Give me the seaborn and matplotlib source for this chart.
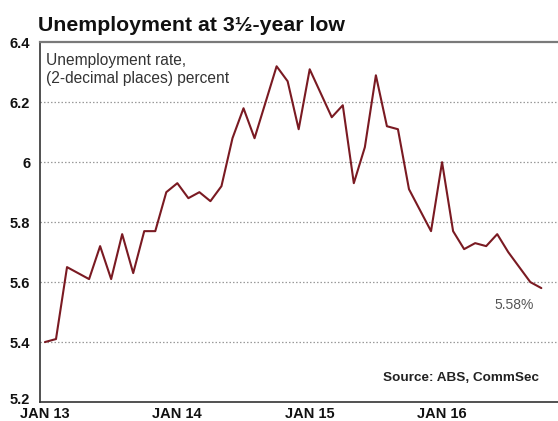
import matplotlib
matplotlib.use("Agg")
import matplotlib.pyplot as plt
import matplotlib.transforms as mtransforms
import seaborn as sns
import pandas as pd

# Monthly unemployment rate, Jan 2013 - Oct 2016 (percent, 2 decimals)
months = pd.date_range("2013-01-01", periods=46, freq="MS")
rate = [5.40, 5.41, 5.65, 5.63, 5.61, 5.72, 5.61, 5.76, 5.63, 5.77, 5.77, 5.90,
        5.93, 5.88, 5.90, 5.87, 5.92, 6.08, 6.18, 6.08, 6.20, 6.32, 6.27, 6.11,
        6.31, 6.23, 6.15, 6.19, 5.93, 6.05, 6.29, 6.12, 6.11, 5.91, 5.84, 5.77,
        6.00, 5.77, 5.71, 5.73, 5.72, 5.76, 5.70, 5.65, 5.60, 5.58]
year_ticks = [0, 12, 24, 36]
year_labels = ["JAN 13", "JAN 14", "JAN 15", "JAN 16"]
y_ticks = [5.2, 5.4, 5.6, 5.8, 6.0, 6.2, 6.4]
y_labels = ["5.2", "5.4", "5.6", "5.8", "6", "6.2", "6.4"]

sns.set_style("white")
plt.rcParams["font.family"] = ["Liberation Sans", "DejaVu Sans"]

df = pd.DataFrame({"idx": range(len(rate)), "month": months, "rate": rate})

fig = plt.figure(figsize=(5.58, 4.21), dpi=100)
ax = fig.add_axes([40 / 558, 1 - 402 / 421, 523.4 / 558, (402 - 42.3) / 421])

for v in y_ticks[1:-1]:
    ax.axhline(v, color="#9a9a9a", lw=0.9, ls=(0, (1.2, 1.6)), zorder=1)

sns.lineplot(data=df, x="idx", y="rate", ax=ax, color="#7a1a22", lw=1.5, zorder=3)

ax.set_xlim(-0.45, 47)
ax.set_ylim(5.2, 6.4)
ax.set_xlabel("")
ax.set_ylabel("")

ax.set_yticks(y_ticks)
ax.set_yticklabels(y_labels, fontsize=10.5, fontweight="bold", color="#111111")
ax.set_xticks(year_ticks)
ax.set_xticklabels(year_labels, fontsize=10.5, fontweight="bold", color="#111111")
ax.set_xticks(range(len(rate) + 1), minor=True)
ax.tick_params(axis="y", length=0, pad=7)
ax.tick_params(axis="x", which="major", length=0, pad=3.5)
ax.tick_params(axis="x", which="minor", direction="in", length=4, width=0.8,
               color="#666666")

# lift the lowest y label slightly so it clears the first month label
bottom_label = ax.get_yticklabels()[0]
bottom_label.set_transform(bottom_label.get_transform() +
                           mtransforms.ScaledTranslation(0, 4 / 100, fig.dpi_scale_trans))

for side in ["left", "bottom"]:
    ax.spines[side].set_color("#333333")
    ax.spines[side].set_linewidth(1.2)
ax.spines["top"].set_color("#7a7a7a")
ax.spines["top"].set_linewidth(1.6)
ax.spines["right"].set_visible(False)

fig.text(38 / 558, 1 - 31 / 421, "Unemployment at 3½-year low", fontsize=15.3,
         fontweight="bold", color="#111111", ha="left", va="baseline")
fig.text(46 / 558, 1 - 53 / 421, "Unemployment rate,\n(2-decimal places) percent",
         fontsize=11.2, color="#333333", ha="left", va="top", linespacing=1.25)
fig.text(539 / 558, 1 - 378 / 421, "Source: ABS, CommSec", fontsize=9.7,
         fontweight="bold", color="#222222", ha="right", va="center")
fig.text(514 / 558, 1 - 305 / 421, f"{rate[-1]:.2f}%", fontsize=10,
         color="#555555", ha="center", va="center")

fig.savefig("out.png", dpi=100)
